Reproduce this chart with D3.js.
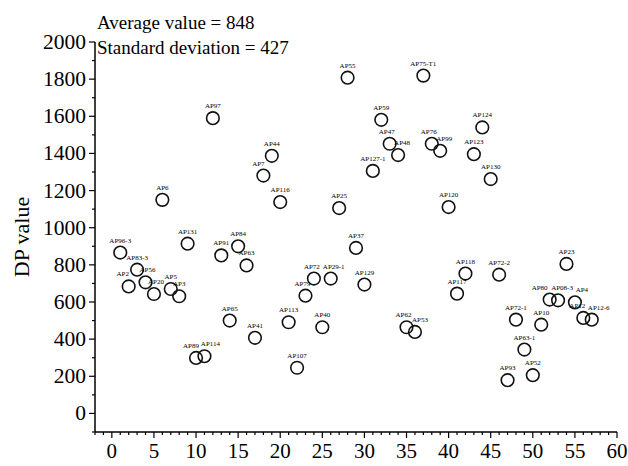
<!DOCTYPE html>
<html><head><meta charset="utf-8">
<script src="https://cdn.jsdelivr.net/npm/d3@7"></script>
<style>body{margin:0;background:#fff}svg{display:block}</style>
</head><body><svg id="c" width="628" height="466"></svg>
<script>
const xValues = [1,2,3,4,5,6,7,8,9,10,11,12,13,14,15,16,17,18,19,20,21,22,23,24,25,26,27,28,29,30,31,32,33,34,35,36,37,38,39,40,41,42,43,44,45,46,47,48,49,50,51,52,53,54,55,56,57];
const dpValues = [866,684,774,706,643,1150,670,631,914,299,308,1590,851,500,900,797,407,1281,1387,1138,491,246,634,726,464,726,1106,1808,891,694,1306,1581,1452,1391,464,439,1819,1452,1414,1111,645,753,1396,1540,1262,747,179,505,344,206,478,613,609,805,598,514,505];
const pointLabels = ["AP96-3","AP2","AP83-3","AP56","AP20","AP6","AP5","AP3","AP131","AP89","AP114","AP97","AP91","AP65","AP84","AP63","AP41","AP7","AP44","AP116","AP113","AP107","AP79","AP72","AP40","AP29-1","AP25","AP55","AP37","AP129","AP127-1","AP59","AP47","AP48","AP62","AP53","AP75-T1","AP76","AP99","AP120","AP117","AP118","AP123","AP124","AP130","AP72-2","AP93","AP72-1","AP63-1","AP52","AP10","AP80","AP08-3","AP23","AP4","AP12","AP12-6"];
const xTicks = [0,5,10,15,20,25,30,35,40,45,50,55,60];
const yTicks = [0,200,400,600,800,1000,1200,1400,1600,1800,2000];
const annotations = ["Average value = 848","Standard deviation = 427"];

// layout: horizontal nudges for crowded labels (pixels, by point index)
const labelNudge = {1:-6,3:2,4:2,9:-5,10:6,17:-5,22:-3,23:-2,25:3,32:-3,33:4,34:-3,35:5,37:-3,38:4,51:-10,52:4,54:7,55:-6,56:7};

const svg = d3.select("#c");
const font = "'Liberation Serif','Times New Roman',serif";
const x = d3.scaleLinear().domain([-2,60]).range([95,617]);
const y = d3.scaleLinear().domain([-100,2000]).range([432,42]);

// x axis
const gx = svg.append("g").attr("transform","translate(0,432)");
gx.append("line").attr("x1",95).attr("x2",617).attr("stroke","#000").attr("stroke-width",1.5);
gx.selectAll("line.mn").data(d3.range(-2,61)).join("line").attr("class","mn")
  .attr("x1",d=>x(d)).attr("x2",d=>x(d)).attr("y1",0).attr("y2",d=>d%5===0?6:3)
  .attr("stroke","#000").attr("stroke-width",1.2);
gx.selectAll("text").data(xTicks).join("text")
  .attr("x",d=>x(d)).attr("y",26).attr("text-anchor","middle")
  .attr("font-family",font).attr("font-size",21).text(d=>d);

// y axis
const gy = svg.append("g").attr("transform","translate(95,0)");
gy.append("line").attr("y1",y(2000)).attr("y2",432).attr("stroke","#000").attr("stroke-width",1.5);
gy.selectAll("line.mn").data(d3.range(-100,2001,100)).join("line").attr("class","mn")
  .attr("y1",d=>y(d)).attr("y2",d=>y(d)).attr("x1",0).attr("x2",d=>d%200===0?-6:-3)
  .attr("stroke","#000").attr("stroke-width",1.2);
gy.selectAll("text").data(yTicks).join("text")
  .attr("x",-9).attr("y",d=>y(d)+7).attr("text-anchor","end")
  .attr("font-family",font).attr("font-size",21.5).text(d=>d);

svg.append("text").attr("transform","translate(29,237) rotate(-90)")
  .attr("text-anchor","middle").attr("font-family",font).attr("font-size",22).text("DP value");

svg.selectAll("text.ann").data(annotations).join("text").attr("class","ann")
  .attr("x",97).attr("y",(d,i)=>29+i*25).attr("font-family",font).attr("font-size",19).text(d=>d);

const pts = xValues.map((v,i)=>({i:i,x:v,y:dpValues[i],l:pointLabels[i]}));
svg.selectAll("circle").data(pts).join("circle")
  .attr("cx",d=>x(d.x)).attr("cy",d=>y(d.y)).attr("r",6.3)
  .attr("fill","none").attr("stroke","#111").attr("stroke-width",1.6);
svg.selectAll("text.pl").data(pts).join("text").attr("class","pl")
  .attr("x",d=>x(d.x)+(labelNudge[d.i]||0)).attr("y",d=>y(d.y)-10).attr("text-anchor","middle")
  .attr("font-family",font).attr("font-size",7).text(d=>d.l);
</script></body></html>
